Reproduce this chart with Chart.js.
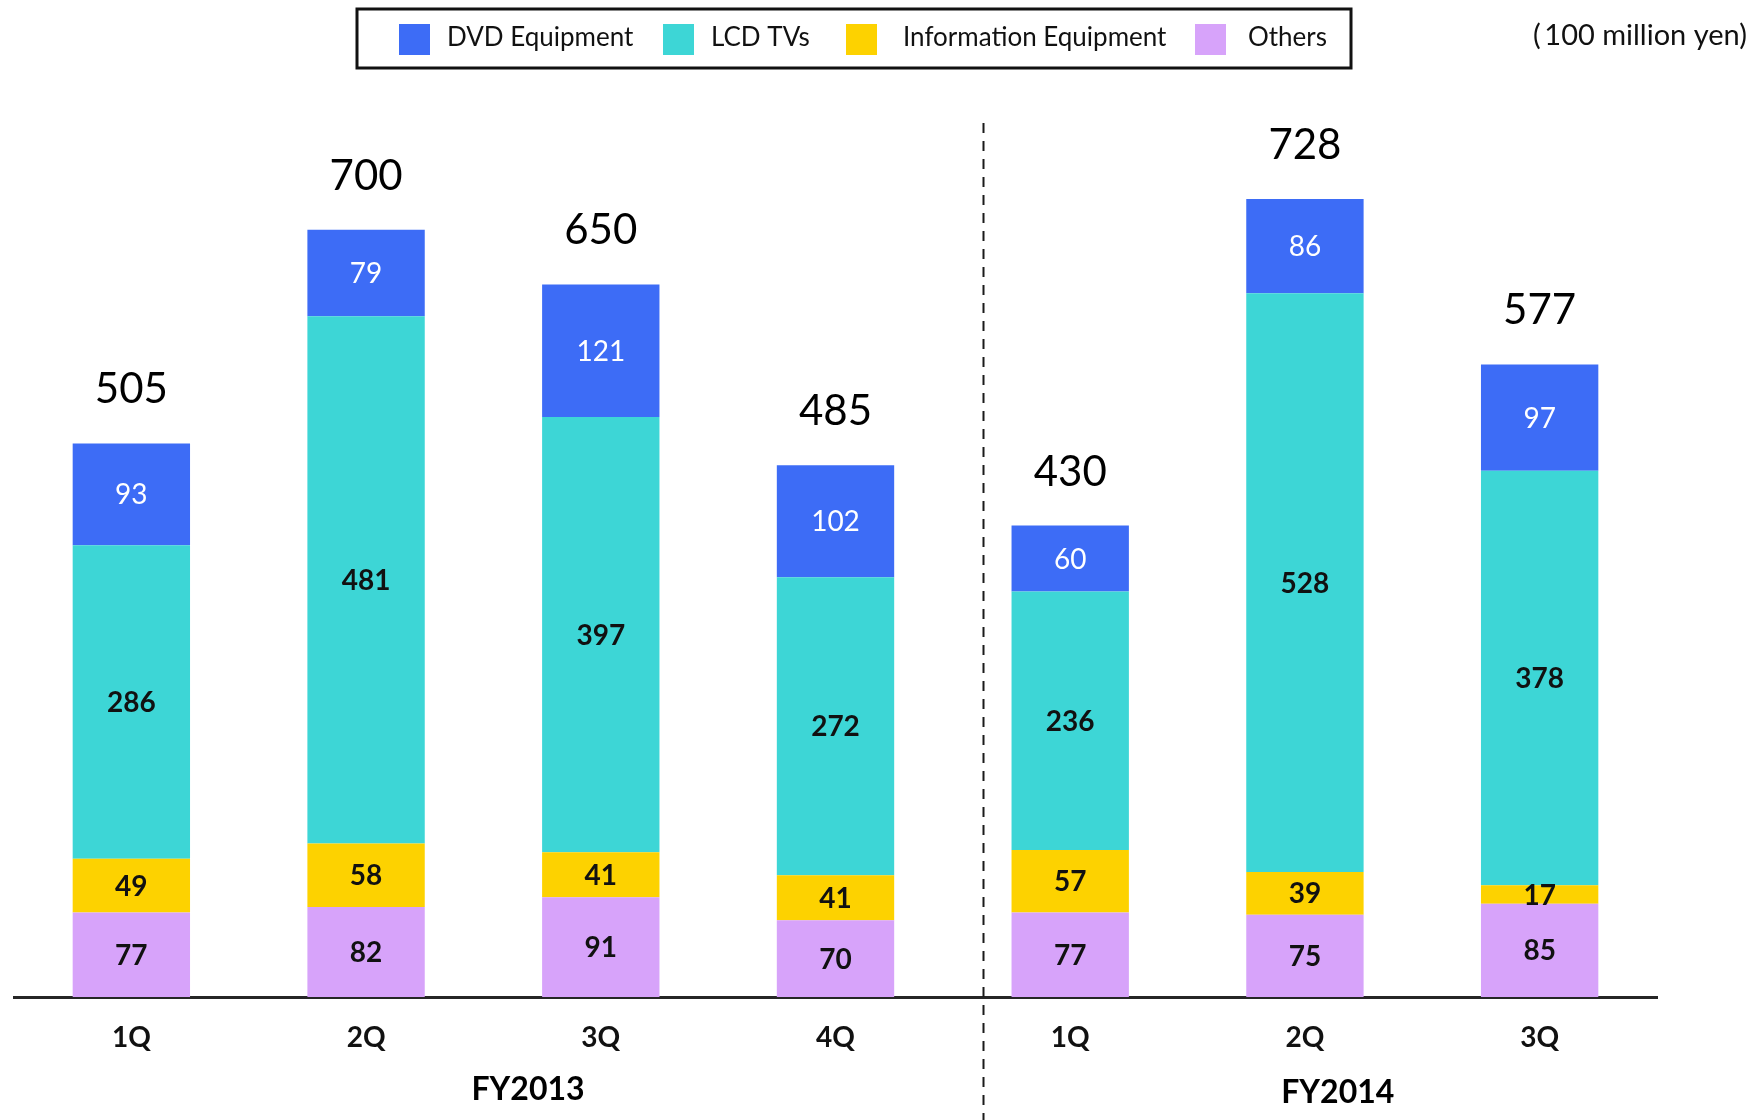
<!DOCTYPE html>
<html>
<head>
<meta charset="utf-8">
<title>Quarterly Sales by Segment</title>
<script src="https://cdn.jsdelivr.net/npm/chart.js@4.4.1/dist/chart.umd.min.js"></script>
<style>
  html, body { margin: 0; padding: 0; background: #ffffff; overflow: hidden; }
  canvas { display: block; }
</style>
</head>
<body>
<canvas id="sales" width="1760" height="1120"></canvas>
<script>
// Quarter labels along the category axis
const quarters = ['1Q', '2Q', '3Q', '4Q', '1Q', '2Q', '3Q'];
// Fiscal-year group labels and the category position each is centred on
const fiscalYears = ['FY2013', 'FY2014'];
const fiscalYearCenters = [1.69, 5.14];

// Segment sales (100 million yen)
const dvdEquipment = [93, 79, 121, 102, 60, 86, 97];
const lcdTvs = [286, 481, 397, 272, 236, 528, 378];
const informationEquipment = [49, 58, 41, 41, 57, 39, 17];
const others = [77, 82, 91, 70, 77, 75, 85];

const unitLabel = '(\u2009100 million yen)';
const FONT = 'Lato, "Open Sans", "Noto Sans", sans-serif';

// Stacked bottom to top: Others, Information Equipment, LCD TVs, DVD Equipment
const datasets = [
  { label: 'Others', data: others, backgroundColor: '#d7a3fa' },
  { label: 'Information Equipment', data: informationEquipment, backgroundColor: '#fdd200' },
  { label: 'LCD TVs', data: lcdTvs, backgroundColor: '#3dd6d6' },
  { label: 'DVD Equipment', data: dvdEquipment, backgroundColor: '#3d6cf6' }
];

// How each segment's value label is written inside its bar
const segmentLabelStyle = {
  'Others': { color: '#111111', font: 'bold 28px ' + FONT },
  'Information Equipment': { color: '#111111', font: 'bold 28px ' + FONT },
  'LCD TVs': { color: '#111111', font: 'bold 28px ' + FONT },
  'DVD Equipment': { color: '#ffffff', font: '28px ' + FONT }
};

// Legend order and placement inside the framed box
const legendOrder = ['DVD Equipment', 'LCD TVs', 'Information Equipment', 'Others'];
const legendLayout = {
  frame: { left: 357, top: 9, right: 1351, bottom: 68 },
  swatchX: [399, 663, 846, 1195],
  textX: [447, 711, 903, 1248],
  swatchTop: 24, swatchSize: 31, baseline: 46
};

const background = {
  id: 'background',
  beforeDraw(chart) {
    const { ctx, width, height } = chart;
    ctx.save();
    ctx.fillStyle = '#ffffff';
    ctx.fillRect(0, 0, width, height);
    ctx.restore();
  }
};

// Value labels inside each segment and the total above each stack
const valueLabels = {
  id: 'valueLabels',
  afterDatasetsDraw(chart) {
    const { ctx } = chart;
    ctx.save();
    ctx.textAlign = 'center';
    ctx.textBaseline = 'middle';
    chart.data.datasets.forEach((ds, i) => {
      const style = segmentLabelStyle[ds.label];
      const meta = chart.getDatasetMeta(i);
      meta.data.forEach((bar, j) => {
        ctx.font = style.font;
        ctx.fillStyle = style.color;
        ctx.fillText(String(ds.data[j]), bar.x, (bar.y + bar.base) / 2 + 1);
      });
    });
    const topMeta = chart.getDatasetMeta(chart.data.datasets.length - 1);
    ctx.textBaseline = 'alphabetic';
    ctx.font = '42px ' + FONT;
    ctx.fillStyle = '#000000';
    topMeta.data.forEach((bar, j) => {
      const total = chart.data.datasets.reduce((s, ds) => s + ds.data[j], 0);
      ctx.fillText(String(total), bar.x, bar.y - 40);
    });
    ctx.restore();
  }
};

// Legend box, unit note, fiscal-year divider and group labels
const decorations = {
  id: 'decorations',
  afterDraw(chart) {
    const { ctx, scales: { x }, height } = chart;
    ctx.save();

    // framed legend
    const f = legendLayout.frame;
    ctx.strokeStyle = '#111111';
    ctx.lineWidth = 3;
    ctx.strokeRect(f.left, f.top, f.right - f.left, f.bottom - f.top);
    ctx.font = '26px ' + FONT;
    ctx.textAlign = 'left';
    ctx.textBaseline = 'alphabetic';
    legendOrder.forEach((name, k) => {
      const ds = chart.data.datasets.find(d => d.label === name);
      ctx.fillStyle = ds.backgroundColor;
      ctx.fillRect(legendLayout.swatchX[k], legendLayout.swatchTop, legendLayout.swatchSize, legendLayout.swatchSize);
      ctx.fillStyle = '#111111';
      ctx.fillText(name, legendLayout.textX[k], legendLayout.baseline);
    });

    // unit note
    ctx.textAlign = 'right';
    ctx.fillStyle = '#111111';
    ctx.font = '29px ' + FONT;
    ctx.fillText(unitLabel, 1747, 45);

    // dashed divider between the fiscal years
    const divX = Math.round(x.getPixelForValue(3.63)) + 0.5;
    ctx.strokeStyle = '#1a1a1a';
    ctx.lineWidth = 2;
    ctx.setLineDash([10, 8]);
    ctx.beginPath();
    ctx.moveTo(divX, 123);
    ctx.lineTo(divX, height);
    ctx.stroke();
    ctx.setLineDash([]);

    // fiscal-year labels under the quarter ticks
    ctx.textAlign = 'center';
    ctx.textBaseline = 'middle';
    ctx.font = 'bold 32px ' + FONT;
    ctx.fillStyle = '#000000';
    const groupY = [1090, 1093];
    fiscalYears.forEach((fy, k) => {
      ctx.fillText(fy, x.getPixelForValue(fiscalYearCenters[k]), groupY[k]);
    });
    ctx.restore();
  }
};

new Chart(document.getElementById('sales'), {
  type: 'bar',
  data: { labels: quarters, datasets },
  options: {
    responsive: false,
    devicePixelRatio: 1,
    animation: false,
    layout: { padding: { top: 120, left: 14, right: 103, bottom: 0 } },
    datasets: { bar: { barPercentage: 1, categoryPercentage: 0.5, borderWidth: 0 } },
    plugins: {
      legend: { display: false },
      tooltip: { enabled: false },
      title: { display: false }
    },
    scales: {
      x: {
        stacked: true,
        grid: { display: false, drawTicks: false },
        border: { display: true, color: '#262626', width: 3 },
        ticks: {
          color: '#111111',
          font: { family: FONT, size: 28, weight: 'bold' },
          padding: 24,
          maxRotation: 0,
          autoSkip: false
        },
        afterFit(scale) { scale.height = 123; }
      },
      y: {
        stacked: true,
        display: false,
        min: 0,
        max: 800
      }
    }
  },
  plugins: [background, valueLabels, decorations]
});
</script>
</body>
</html>
